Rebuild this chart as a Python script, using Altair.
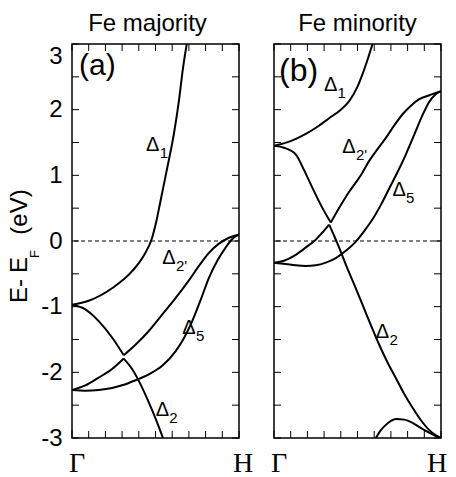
import altair as alt
import pandas as pd

# ---------------- data (x: fraction of path Γ→H, y: E - E_F in eV) ----------------
# (a) Fe majority
maj_d1_x = [0, 0.10, 0.24, 0.36, 0.43, 0.48, 0.505, 0.53, 0.57, 0.61, 0.64, 0.665, 0.687]
maj_d1_y = [-0.97, -0.91, -0.72, -0.46, -0.22, 0.05, 0.30, 0.61, 1.11, 1.63, 2.13, 2.64, 3.0]

maj_up_x = [0, 0.08, 0.16, 0.24, 0.31]
maj_up_y = [-0.97, -1.04, -1.22, -1.47, -1.74]

maj_d2p_x = [0.31, 0.38, 0.46, 0.54, 0.62, 0.70, 0.76, 0.82, 0.88, 0.94, 1.0]
maj_d2p_y = [-1.74, -1.58, -1.37, -1.12, -0.87, -0.60, -0.38, -0.18, -0.04, 0.05, 0.10]

maj_lo_x = [0, 0.08, 0.16, 0.24, 0.31]
maj_lo_y = [-2.27, -2.20, -2.08, -1.95, -1.79]

maj_d2_x = [0.31, 0.36, 0.40, 0.45, 0.50, 0.545]
maj_d2_y = [-1.79, -1.95, -2.13, -2.40, -2.70, -3.0]

maj_d5_x = [0, 0.08, 0.16, 0.24, 0.31, 0.38, 0.46, 0.54, 0.62, 0.67, 0.72, 0.77, 0.82, 0.87, 0.92, 0.96, 1.0]
maj_d5_y = [-2.27, -2.28, -2.27, -2.24, -2.19, -2.12, -2.03, -1.90, -1.68, -1.48, -1.22, -0.90, -0.56, -0.30, -0.10, 0.03, 0.10]

# (b) Fe minority
min_d1_x = [0, 0.10, 0.19, 0.26, 0.33, 0.40, 0.45, 0.50, 0.53, 0.56, 0.59]
min_d1_y = [1.45, 1.52, 1.63, 1.74, 1.87, 2.00, 2.13, 2.35, 2.54, 2.76, 3.0]

min_up_x = [0, 0.06, 0.13, 0.18, 0.23, 0.28, 0.34]
min_up_y = [1.45, 1.42, 1.32, 1.08, 0.81, 0.55, 0.28]

min_d2p_x = [0.34, 0.38, 0.45, 0.52, 0.57, 0.62, 0.67, 0.72, 0.77, 0.82, 0.87, 0.93, 1.0]
min_d2p_y = [0.28, 0.46, 0.75, 1.00, 1.22, 1.40, 1.57, 1.76, 1.93, 2.06, 2.16, 2.22, 2.28]

min_lo_x = [0, 0.06, 0.13, 0.19, 0.25, 0.29, 0.33]
min_lo_y = [-0.33, -0.30, -0.21, -0.10, 0.02, 0.13, 0.25]

min_d2_x = [0.33, 0.36, 0.39, 0.43, 0.48, 0.53, 0.58, 0.63, 0.68, 0.73, 0.78, 0.83, 0.88, 0.93, 0.97, 1.0]
min_d2_y = [0.25, 0.08, -0.10, -0.36, -0.66, -0.97, -1.28, -1.58, -1.85, -2.09, -2.33, -2.54, -2.73, -2.88, -2.96, -3.0]

min_d5_x = [0, 0.07, 0.13, 0.19, 0.25, 0.31, 0.37, 0.43, 0.49, 0.54, 0.59, 0.64, 0.69, 0.74, 0.79, 0.84, 0.89, 0.93, 0.97, 1.0]
min_d5_y = [-0.33, -0.35, -0.37, -0.38, -0.37, -0.33, -0.26, -0.15, -0.01, 0.15, 0.33, 0.55, 0.80, 1.05, 1.32, 1.62, 1.92, 2.12, 2.24, 2.28]

min_bump_x = [0.61, 0.64, 0.67, 0.70, 0.73, 0.78, 0.83, 0.88, 0.93, 0.97, 1.0]
min_bump_y = [-3.0, -2.88, -2.80, -2.74, -2.71, -2.72, -2.77, -2.85, -2.92, -2.97, -3.0]

# band labels (Δ with subscript)
maj_lab_x = [0.483, 0.581, 0.70, 0.541]
maj_lab_y = [1.37, -0.355, -1.42, -2.67]
maj_lab_sub = ["1", "2'", "5", "2"]

min_lab_x = [0.339, 0.449, 0.749, 0.649]
min_lab_y = [2.28, 1.34, 0.685, -1.47]
min_lab_sub = ["1", "2'", "5", "2"]

# axes
x_ticks = [0, 0.1, 0.2, 0.3, 0.4, 0.5, 0.6, 0.7, 0.8, 0.9, 1.0]
y_ticks = [-3, -2.5, -2, -1.5, -1, -0.5, 0, 0.5, 1, 1.5, 2, 2.5, 3]
y_labels = [-3, -2, -1, 0, 1, 2, 3]
k_x = [0, 1]
k_labels = ["Γ", "H"]
zero_line = [0]

FONT = "Liberation Sans"
SERIF = "Liberation Serif"
W, H = 167, 394
TICK = 7


def bands(pairs):
    rows = []
    for name, xs, ys in pairs:
        for xv, yv in zip(xs, ys):
            rows.append({"seg": name, "x": xv, "y": yv})
    return pd.DataFrame(rows)


maj_df = bands([
    ("d1", maj_d1_x, maj_d1_y), ("up", maj_up_x, maj_up_y), ("d2p", maj_d2p_x, maj_d2p_y),
    ("lo", maj_lo_x, maj_lo_y), ("d2", maj_d2_x, maj_d2_y), ("d5", maj_d5_x, maj_d5_y),
])
min_df = bands([
    ("d1", min_d1_x, min_d1_y), ("up", min_up_x, min_up_y), ("d2p", min_d2p_x, min_d2p_y),
    ("lo", min_lo_x, min_lo_y), ("d2", min_d2_x, min_d2_y), ("d5", min_d5_x, min_d5_y),
    ("bump", min_bump_x, min_bump_y),
])

xs = alt.Scale(domain=[0, 1], nice=False, zero=False)
ys = alt.Scale(domain=[-3, 3], nice=False, zero=False)


def txt(t, **kw):
    return alt.Chart(pd.DataFrame({"t": [t]})).mark_text(color="black", **kw)


def panel(df, lab_x, lab_y, lab_sub, title, title_dx, tag, tag_size, tag_dx, tag_y, h_dx, left):
    if left:
        yaxis = alt.Axis(values=y_labels, ticks=False, domain=False, grid=False, title=None,
                         labelExpr="'' + datum.value", labelFont=FONT, labelFontSize=24,
                         labelColor="black", labelPadding=10,
                         labelBaseline={"condition": {"test": "datum.value == 3", "value": "top"},
                                        "value": "middle"})
    else:
        yaxis = None
    lines = alt.Chart(df).mark_line(color="black", strokeWidth=2, interpolate="monotone", clip=True).encode(
        x=alt.X("x:Q", scale=xs, axis=None),
        y=alt.Y("y:Q", scale=ys, axis=yaxis),
        detail="seg:N",
    )
    xt = pd.DataFrame({"t": x_ticks})
    yt = pd.DataFrame({"t": y_ticks})
    tick_b = alt.Chart(xt).mark_rule(color="black", strokeWidth=1).encode(
        x=alt.X("t:Q", scale=xs, axis=None), y=alt.value(H), y2=alt.value(H - TICK))
    tick_t = alt.Chart(xt).mark_rule(color="black", strokeWidth=1).encode(
        x=alt.X("t:Q", scale=xs, axis=None), y=alt.value(0), y2=alt.value(TICK))
    tick_l = alt.Chart(yt).mark_rule(color="black", strokeWidth=1).encode(
        y=alt.Y("t:Q", scale=ys, axis=None), x=alt.value(0), x2=alt.value(TICK))
    tick_r = alt.Chart(yt).mark_rule(color="black", strokeWidth=1).encode(
        y=alt.Y("t:Q", scale=ys, axis=None), x=alt.value(W), x2=alt.value(W - TICK))

    zero = alt.Chart(pd.DataFrame({"y": zero_line})).mark_rule(
        color="black", strokeWidth=1, strokeDash=[4, 3]).encode(
        y=alt.Y("y:Q", scale=ys, axis=None))

    lab_df = pd.DataFrame({"x": lab_x, "y": lab_y, "sub": lab_sub, "main": ["Δ"] * len(lab_x)})
    delta = alt.Chart(lab_df).mark_text(font=FONT, fontSize=20, align="center",
                                        baseline="alphabetic", color="black").encode(
        x=alt.X("x:Q", scale=xs, axis=None), y=alt.Y("y:Q", scale=ys, axis=None), text="main:N")
    sub = alt.Chart(lab_df).mark_text(font=FONT, fontSize=15, align="left", baseline="alphabetic",
                                      dx=7, dy=7, color="black").encode(
        x=alt.X("x:Q", scale=xs, axis=None), y=alt.Y("y:Q", scale=ys, axis=None), text="sub:N")

    k_df = pd.DataFrame({"x": k_x, "t": k_labels})
    g_lab = alt.Chart(k_df.iloc[[0]]).mark_text(font=SERIF, fontSize=28, align="center",
                                                baseline="alphabetic", color="black", dx=5).encode(
        x=alt.X("x:Q", scale=xs, axis=None), y=alt.value(H + 34), text="t:N")
    h_lab = alt.Chart(k_df.iloc[[1]]).mark_text(font=SERIF, fontSize=28, align="center",
                                                baseline="alphabetic", color="black", dx=h_dx).encode(
        x=alt.X("x:Q", scale=xs, axis=None), y=alt.value(H + 34), text="t:N")

    ttl = txt(title, font=FONT, fontSize=24, align="center", baseline="alphabetic", dx=title_dx).encode(
        x=alt.value(W / 2), y=alt.value(-13), text="t:N")
    tg = txt(tag, font=FONT, fontSize=tag_size, align="left", baseline="alphabetic").encode(
        x=alt.value(tag_dx), y=alt.value(tag_y), text="t:N")

    layers = [lines, tick_b, tick_t, tick_l, tick_r, zero, delta, sub, g_lab, h_lab, ttl, tg]
    if left:
        parts = [("E-", "left", 259, -45, 24), ("E", "left", 229, -45, 24),
                 ("F", "left", 214, -33, 13), ("(eV)", "center", 168, -45, 24)]
        for t, al, yy, xx, fs in parts:
            layers.append(txt(t, font=FONT, fontSize=fs, align=al, baseline="alphabetic", angle=270).encode(
                x=alt.value(xx), y=alt.value(yy), text="t:N"))
    return alt.layer(*layers).properties(width=W, height=H).resolve_axis(y="independent")


left_panel = panel(maj_df, maj_lab_x, maj_lab_y, maj_lab_sub, "Fe majority", -8, "(a)", 30, 7, 31, 4, True)
right_panel = panel(min_df, min_lab_x, min_lab_y, min_lab_sub, "Fe minority", 0, "(b)", 32, 5, 37, -4, False)

chart = alt.hconcat(left_panel, right_panel, spacing=35, bounds="flush").properties(
    padding={"left": 7, "top": 11, "right": 0, "bottom": 0}
).configure_view(stroke="black", strokeWidth=1.5)

chart.save("out.html", embed_options={"renderer": "svg", "actions": False})
